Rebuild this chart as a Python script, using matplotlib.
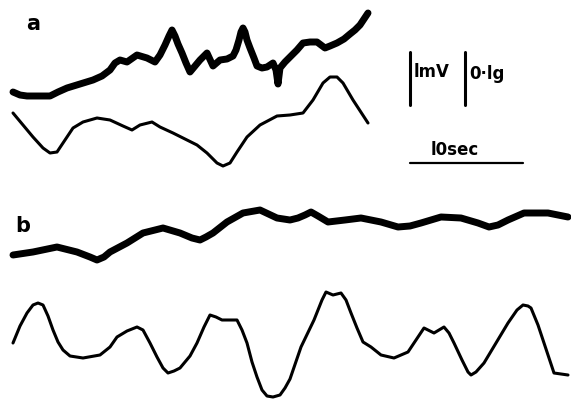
import matplotlib
matplotlib.use("Agg")
import matplotlib.pyplot as plt

# traces, in image pixel coordinates (x, y down)
a_emg_x = [13, 20, 27, 40, 50, 58, 67, 80, 93, 102, 110, 115, 120, 127, 137, 147,
           155, 160, 165, 169, 172, 175, 178, 182, 186, 190, 195, 200, 207, 213,
           220, 227, 233, 236, 239, 241, 243, 245, 247, 250, 254, 257, 262, 267,
           273, 276, 278, 280, 285, 290, 297, 303, 310, 317, 325, 330, 337, 344,
           350, 355, 360, 364, 368]
a_emg_y = [92, 95, 96, 96, 96, 92, 88, 84, 80, 76, 70, 63, 60, 62, 55, 58,
           62, 55, 45, 36, 30, 36, 44, 53, 63, 72, 66, 60, 53, 66,
           60, 59, 56, 50, 40, 32, 28, 32, 40, 48, 58, 66, 68, 67,
           63, 70, 84, 68, 62, 57, 50, 43, 42, 42, 48, 46, 43, 39,
           34, 30, 25, 19, 13]

a_acc_x = [13, 23, 33, 43, 50, 57, 65, 73, 83, 97, 110, 123, 132, 140, 152, 160,
           173, 187, 197, 207, 217, 223, 230, 237, 247, 260, 277, 290, 303, 313,
           323, 330, 337, 343, 353, 368]
a_acc_y = [113, 125, 137, 148, 153, 152, 140, 128, 122, 118, 120, 126, 130, 125, 122, 127,
           133, 140, 145, 153, 163, 166, 163, 152, 137, 125, 116, 115, 113, 100,
           83, 77, 77, 83, 100, 123]

b_emg_x = [13, 33, 57, 77, 90, 97, 104, 110, 127, 143, 163, 180, 192, 200, 206,
           213, 227, 243, 260, 277, 290, 298, 305, 311, 318, 328, 345, 361, 381,
           398, 410, 421, 441, 461, 478, 489, 498, 508, 524, 548, 568]
b_emg_y = [255, 252, 247, 252, 257, 260, 257, 252, 243, 233, 228, 233, 238, 240, 237,
           233, 222, 213, 210, 218, 220, 218, 215, 212, 216, 222, 220, 218, 222,
           227, 226, 223, 217, 218, 223, 227, 225, 220, 213, 213, 217]

b_acc_x = [13, 20, 27, 33, 38, 43, 48, 53, 58, 63, 70, 83, 100, 110, 117, 127,
           137, 143, 150, 157, 163, 168, 174, 180, 190, 197, 204, 210, 216, 222,
           237, 242, 247, 252, 257, 262, 267, 273, 280, 285, 290, 301, 314, 322,
           326, 333, 341, 346, 351, 357, 363, 371, 381, 394, 408, 416, 424, 434,
           444, 449, 454, 462, 468, 471, 476, 484, 496, 508, 517, 523, 528, 531,
           538, 544, 554, 568]
b_acc_y = [343, 326, 313, 305, 303, 305, 316, 330, 342, 350, 356, 358, 355, 347, 337, 331,
           327, 330, 343, 357, 368, 373, 371, 368, 356, 343, 327, 315, 317, 320,
           320, 330, 343, 362, 377, 390, 396, 397, 395, 388, 379, 347, 320, 300,
           292, 295, 293, 300, 313, 328, 342, 347, 355, 358, 352, 340, 328, 333,
           327, 333, 343, 360, 372, 375, 372, 363, 343, 323, 310, 305, 306, 308,
           325, 343, 373, 375]

fig = plt.figure(figsize=(5.71, 4.01), dpi=100)
ax = fig.add_axes([0, 0, 1, 1])
ax.set_xlim(0, 571)
ax.set_ylim(401, 0)
ax.axis("off")

kw = dict(color="black", solid_joinstyle="round", solid_capstyle="round")
ax.plot(a_emg_x, a_emg_y, lw=5.0, **kw)
ax.plot(a_acc_x, a_acc_y, lw=2.2, **kw)
ax.plot(b_emg_x, b_emg_y, lw=5.0, **kw)
ax.plot(b_acc_x, b_acc_y, lw=2.2, **kw)

# calibration bars
ax.plot([410, 410], [52, 105], lw=2.2, **kw)
ax.plot([465, 465], [52, 105], lw=2.2, **kw)
ax.plot([410, 523], [163, 163], lw=1.6, **kw)

tk = dict(color="black", fontweight="bold", family="DejaVu Sans")
ax.text(414, 72, "lmV", fontsize=12, va="center", ha="left", **tk)
ax.text(469, 74, "0·lg", fontsize=12, va="center", ha="left", **tk)
ax.text(455, 150, "l0sec", fontsize=12, va="center", ha="center", **tk)
ax.text(33, 24, "a", fontsize=15, va="center", ha="center", **tk)
ax.text(23, 226, "b", fontsize=15, va="center", ha="center", **tk)

fig.savefig("out.png", dpi=100)
